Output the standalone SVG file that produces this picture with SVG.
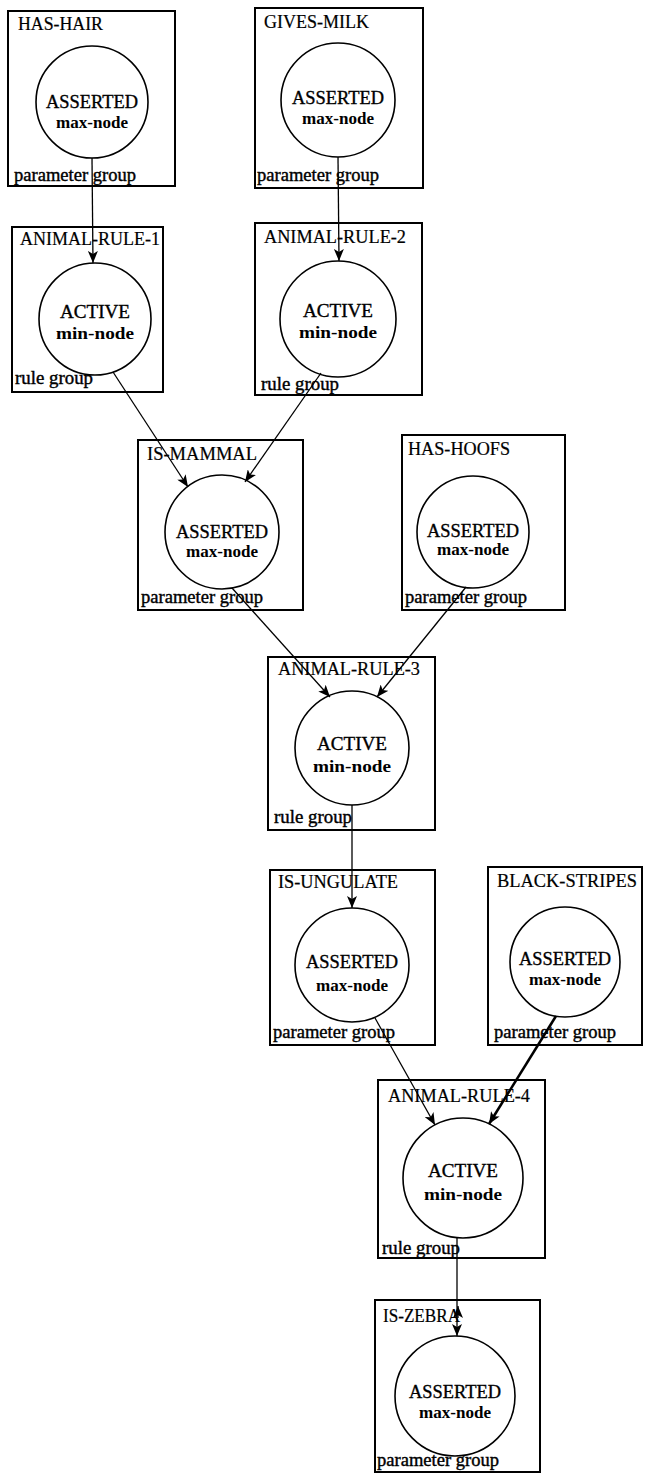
<svg xmlns="http://www.w3.org/2000/svg" width="654" height="1479" viewBox="0 0 654 1479">
<defs>
<style>
.box{fill:none;stroke:#000;stroke-width:2}
.node{fill:#fff;stroke:#000;stroke-width:1.6}
text{font-family:"Liberation Serif","Times New Roman",serif;fill:#000}
.ttl{font-size:18px;stroke:#000;stroke-width:0.2}
.st{font-size:18px;text-anchor:middle;stroke:#000;stroke-width:0.35}
.ty{font-size:17px;font-weight:bold;text-anchor:middle}
.grp{font-size:18px;stroke:#000;stroke-width:0.4}
.cn{fill:none;stroke:#000;stroke-width:1.3}
.thick{stroke-width:2.6}
</style>
<marker id="ah" viewBox="0 0 12 10" refX="12" refY="5" markerWidth="12" markerHeight="10" markerUnits="userSpaceOnUse" orient="auto">
<path d="M0,0 L12,5 L0,10 L3,5 z" fill="#000"/>
</marker>
</defs>
<rect width="654" height="1479" fill="#fff"/>

<g id="has-hair">
<rect class="box" x="8" y="11" width="167" height="175"/>
<circle class="node" cx="92" cy="102" r="56"/>
<text class="ttl" x="18" y="30" textLength="85" lengthAdjust="spacingAndGlyphs">HAS-HAIR</text>
<text class="st" x="92" y="108" textLength="92" lengthAdjust="spacingAndGlyphs">ASSERTED</text>
<text class="ty" x="92" y="128" textLength="72" lengthAdjust="spacingAndGlyphs">max-node</text>
<text class="grp" x="14" y="181" textLength="122" lengthAdjust="spacingAndGlyphs">parameter group</text>
</g>

<g id="gives-milk">
<rect class="box" x="255" y="8" width="168" height="180"/>
<circle class="node" cx="338" cy="100" r="57"/>
<text class="ttl" x="264" y="28" textLength="105" lengthAdjust="spacingAndGlyphs">GIVES-MILK</text>
<text class="st" x="338" y="104" textLength="92" lengthAdjust="spacingAndGlyphs">ASSERTED</text>
<text class="ty" x="338" y="124" textLength="72" lengthAdjust="spacingAndGlyphs">max-node</text>
<text class="grp" x="257" y="181" textLength="122" lengthAdjust="spacingAndGlyphs">parameter group</text>
</g>

<g id="animal-rule-1">
<rect class="box" x="12" y="227" width="151" height="165"/>
<circle class="node" cx="95" cy="319" r="56"/>
<text class="ttl" x="20" y="245" textLength="140" lengthAdjust="spacingAndGlyphs">ANIMAL-RULE-1</text>
<text class="st" x="95" y="318" textLength="70" lengthAdjust="spacingAndGlyphs">ACTIVE</text>
<text class="ty" x="95" y="339" textLength="78" lengthAdjust="spacingAndGlyphs">min-node</text>
<text class="grp" x="15" y="384" textLength="78" lengthAdjust="spacingAndGlyphs">rule group</text>
</g>

<g id="animal-rule-2">
<rect class="box" x="255" y="223" width="167" height="172"/>
<circle class="node" cx="338" cy="319" r="58"/>
<text class="ttl" x="264" y="243" textLength="142" lengthAdjust="spacingAndGlyphs">ANIMAL-RULE-2</text>
<text class="st" x="338" y="317" textLength="70" lengthAdjust="spacingAndGlyphs">ACTIVE</text>
<text class="ty" x="338" y="338" textLength="78" lengthAdjust="spacingAndGlyphs">min-node</text>
<text class="grp" x="261" y="390" textLength="78" lengthAdjust="spacingAndGlyphs">rule group</text>
</g>

<g id="is-mammal">
<rect class="box" x="138" y="440" width="165" height="170"/>
<circle class="node" cx="222" cy="532" r="57"/>
<text class="ttl" x="147" y="460" textLength="110" lengthAdjust="spacingAndGlyphs">IS-MAMMAL</text>
<text class="st" x="222" y="538" textLength="92" lengthAdjust="spacingAndGlyphs">ASSERTED</text>
<text class="ty" x="222" y="557" textLength="72" lengthAdjust="spacingAndGlyphs">max-node</text>
<text class="grp" x="141" y="603" textLength="122" lengthAdjust="spacingAndGlyphs">parameter group</text>
</g>

<g id="has-hoofs">
<rect class="box" x="402" y="435" width="163" height="175"/>
<circle class="node" cx="473" cy="532" r="56"/>
<text class="ttl" x="408" y="455" textLength="102" lengthAdjust="spacingAndGlyphs">HAS-HOOFS</text>
<text class="st" x="473" y="537" textLength="92" lengthAdjust="spacingAndGlyphs">ASSERTED</text>
<text class="ty" x="473" y="555" textLength="72" lengthAdjust="spacingAndGlyphs">max-node</text>
<text class="grp" x="405" y="603" textLength="122" lengthAdjust="spacingAndGlyphs">parameter group</text>
</g>

<g id="animal-rule-3">
<rect class="box" x="268" y="657" width="167" height="173"/>
<circle class="node" cx="352" cy="748" r="57"/>
<text class="ttl" x="278" y="675" textLength="142" lengthAdjust="spacingAndGlyphs">ANIMAL-RULE-3</text>
<text class="st" x="352" y="750" textLength="70" lengthAdjust="spacingAndGlyphs">ACTIVE</text>
<text class="ty" x="352" y="772" textLength="78" lengthAdjust="spacingAndGlyphs">min-node</text>
<text class="grp" x="274" y="823" textLength="78" lengthAdjust="spacingAndGlyphs">rule group</text>
</g>

<g id="is-ungulate">
<rect class="box" x="270" y="870" width="165" height="175"/>
<circle class="node" cx="352" cy="965" r="57"/>
<text class="ttl" x="278" y="888" textLength="120" lengthAdjust="spacingAndGlyphs">IS-UNGULATE</text>
<text class="st" x="352" y="968" textLength="92" lengthAdjust="spacingAndGlyphs">ASSERTED</text>
<text class="ty" x="352" y="991" textLength="72" lengthAdjust="spacingAndGlyphs">max-node</text>
<text class="grp" x="273" y="1038" textLength="122" lengthAdjust="spacingAndGlyphs">parameter group</text>
</g>

<g id="black-stripes">
<rect class="box" x="488" y="867" width="154" height="178"/>
<circle class="node" cx="565" cy="962" r="55"/>
<text class="ttl" x="497" y="887" textLength="140" lengthAdjust="spacingAndGlyphs">BLACK-STRIPES</text>
<text class="st" x="565" y="965" textLength="92" lengthAdjust="spacingAndGlyphs">ASSERTED</text>
<text class="ty" x="565" y="985" textLength="72" lengthAdjust="spacingAndGlyphs">max-node</text>
<text class="grp" x="494" y="1038" textLength="122" lengthAdjust="spacingAndGlyphs">parameter group</text>
</g>

<g id="animal-rule-4">
<rect class="box" x="378" y="1080" width="167" height="178"/>
<circle class="node" cx="463" cy="1178" r="60"/>
<text class="ttl" x="388" y="1102" textLength="142" lengthAdjust="spacingAndGlyphs">ANIMAL-RULE-4</text>
<text class="st" x="463" y="1177" textLength="70" lengthAdjust="spacingAndGlyphs">ACTIVE</text>
<text class="ty" x="463" y="1200" textLength="78" lengthAdjust="spacingAndGlyphs">min-node</text>
<text class="grp" x="382" y="1254" textLength="78" lengthAdjust="spacingAndGlyphs">rule group</text>
</g>

<g id="is-zebra">
<rect class="box" x="375" y="1300" width="165" height="172"/>
<circle class="node" cx="455" cy="1396" r="60"/>
<text class="ttl" x="383" y="1322" textLength="77" lengthAdjust="spacingAndGlyphs">IS-ZEBRA</text>
<text class="st" x="455" y="1398" textLength="92" lengthAdjust="spacingAndGlyphs">ASSERTED</text>
<text class="ty" x="455" y="1418" textLength="72" lengthAdjust="spacingAndGlyphs">max-node</text>
<text class="grp" x="377" y="1466" textLength="122" lengthAdjust="spacingAndGlyphs">parameter group</text>
</g>

<g id="connectors">
<path class="cn" d="M92,158 L93,263" marker-end="url(#ah)"/>
<path class="cn" d="M338,157 L339,261" marker-end="url(#ah)"/>
<path class="cn" d="M113,372 L188,487" marker-end="url(#ah)"/>
<path class="cn" d="M321,373 L245,482" marker-end="url(#ah)"/>
<path class="cn" d="M232,588 L330,697" marker-end="url(#ah)"/>
<path class="cn" d="M466,587 L377,697" marker-end="url(#ah)"/>
<path class="cn" d="M352,805 L352,908" marker-end="url(#ah)"/>
<path class="cn" d="M375,1018 L435,1125" marker-end="url(#ah)"/>
<path class="cn thick" d="M556,1016 L489,1124" marker-end="url(#ah)"/>
<path class="cn" d="M457,1238 L457,1336" marker-end="url(#ah)"/>
<path class="cn" d="M458,1318 L458,1306" marker-end="url(#ah)"/>
</g>
</svg>
